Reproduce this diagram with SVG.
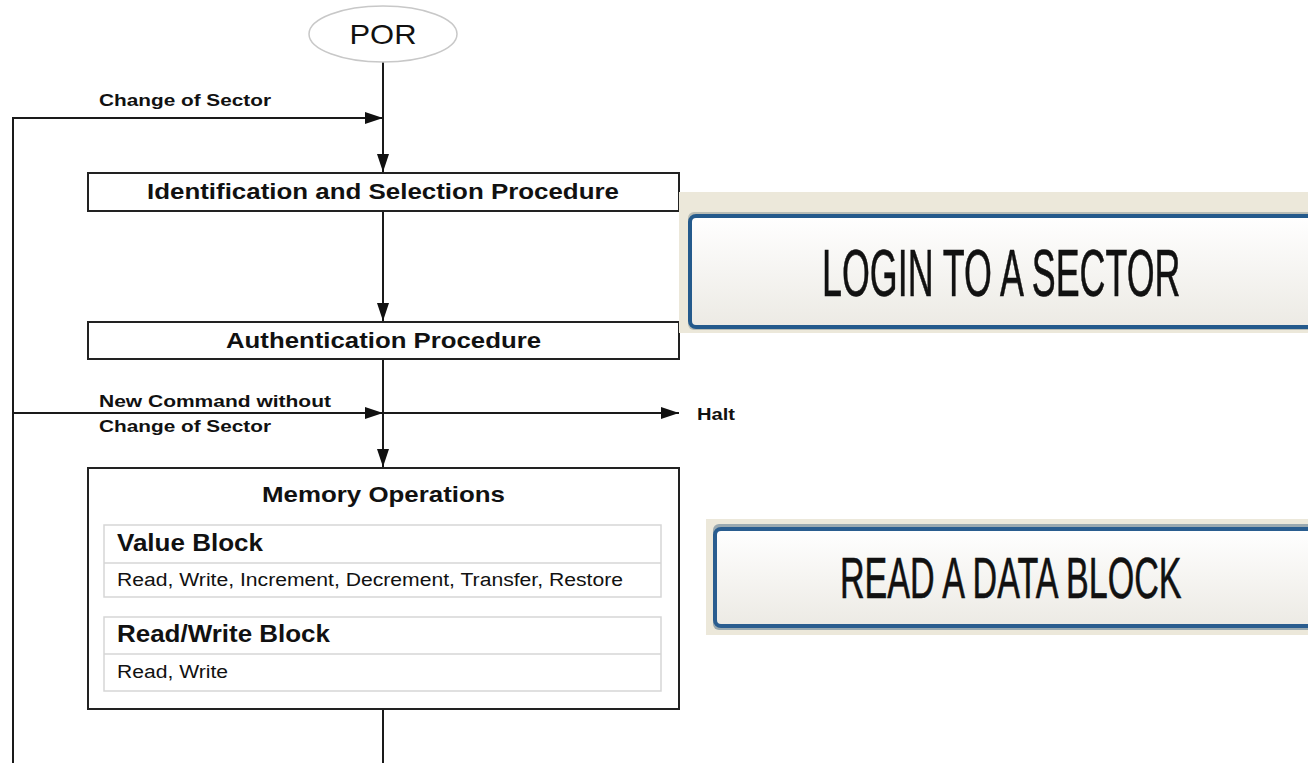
<svg xmlns="http://www.w3.org/2000/svg" width="1308" height="763" viewBox="0 0 1308 763">
<defs>
<style>
.ln{stroke:#1a1a1a;stroke-width:2;fill:none}
.box{fill:#fff;stroke:#222;stroke-width:2}
.sub{fill:#fff;stroke:#d6d6d6;stroke-width:1.5}
.t{font-family:"Liberation Sans",Arial,sans-serif;fill:#111}
.b{font-weight:bold}
.btn{font-family:"Liberation Sans",Arial,sans-serif;fill:#111;stroke:#111;stroke-width:0.6}
</style>
<marker id="ah" viewBox="0 0 18 12" refX="18" refY="6" markerWidth="18" markerHeight="12" markerUnits="userSpaceOnUse" orient="auto">
<path d="M0,0 L18,6 L0,12 Z" fill="#111"/>
</marker>
<linearGradient id="bg" x1="0" y1="0" x2="0" y2="1">
<stop offset="0" stop-color="#ffffff"/>
<stop offset="1" stop-color="#eceae4"/>
</linearGradient>
</defs>
<rect width="1308" height="763" fill="#fff"/>

<g id="connectors">
<line class="ln" x1="383" y1="62" x2="383" y2="172" marker-end="url(#ah)"/>
<polyline class="ln" points="13,763 13,118 383,118" marker-end="url(#ah)"/>
<line class="ln" x1="383" y1="211" x2="383" y2="321" marker-end="url(#ah)"/>
<line class="ln" x1="383" y1="359" x2="383" y2="467" marker-end="url(#ah)"/>
<polyline class="ln" points="13,420 13,413 383,413" marker-end="url(#ah)"/>
<line class="ln" x1="383" y1="413" x2="679" y2="413" marker-end="url(#ah)"/>
<line class="ln" x1="383" y1="709" x2="383" y2="763"/>
<text class="t b" x="99" y="106" font-size="17" textLength="172" lengthAdjust="spacingAndGlyphs">Change of Sector</text>
<text class="t b" x="99" y="407" font-size="17" textLength="232" lengthAdjust="spacingAndGlyphs">New Command without</text>
<text class="t b" x="99" y="432" font-size="17" textLength="172" lengthAdjust="spacingAndGlyphs">Change of Sector</text>
<text class="t b" x="697" y="420" font-size="17" textLength="38" lengthAdjust="spacingAndGlyphs">Halt</text>
</g>

<g id="por">
<ellipse cx="383" cy="34" rx="74" ry="28" fill="#fff" stroke="#c8c8c8" stroke-width="1.5"/>
<text class="t" x="383" y="44" font-size="28" text-anchor="middle" textLength="67" lengthAdjust="spacingAndGlyphs">POR</text>
</g>

<g id="identification">
<rect class="box" x="88" y="173" width="591" height="38"/>
<text class="t b" x="147" y="199" font-size="22" textLength="472" lengthAdjust="spacingAndGlyphs">Identification and Selection Procedure</text>
</g>

<g id="authentication">
<rect class="box" x="88" y="322" width="591" height="37"/>
<text class="t b" x="226" y="348" font-size="22" textLength="315" lengthAdjust="spacingAndGlyphs">Authentication Procedure</text>
</g>

<g id="memory">
<rect class="box" x="88" y="468" width="591" height="241"/>
<text class="t b" x="262" y="502" font-size="22" textLength="243" lengthAdjust="spacingAndGlyphs">Memory Operations</text>
<rect class="sub" x="104" y="525" width="557" height="72"/>
<line x1="104" y1="563" x2="661" y2="563" stroke="#d6d6d6" stroke-width="1.5"/>
<text class="t b" x="117" y="551" font-size="23" textLength="146" lengthAdjust="spacingAndGlyphs">Value Block</text>
<text class="t" x="117" y="586" font-size="18" textLength="506" lengthAdjust="spacingAndGlyphs">Read, Write, Increment, Decrement, Transfer, Restore</text>
<rect class="sub" x="104" y="617" width="557" height="74"/>
<line x1="104" y1="654" x2="661" y2="654" stroke="#d6d6d6" stroke-width="1.5"/>
<text class="t b" x="117" y="642" font-size="23" textLength="213" lengthAdjust="spacingAndGlyphs">Read/Write Block</text>
<text class="t" x="117" y="678" font-size="18" textLength="111" lengthAdjust="spacingAndGlyphs">Read, Write</text>
</g>

<g id="login-button">
<rect x="679" y="192" width="629" height="141" fill="#ece8da"/>
<rect x="688" y="212" width="630" height="118" rx="6" fill="#b9bdb6"/>
<rect x="690" y="216" width="630" height="111" rx="6" fill="url(#bg)" stroke="#245a8c" stroke-width="4"/>
<text class="btn" transform="translate(822,296) scale(0.535,1)" x="0" y="0" font-size="67">LOGIN TO A SECTOR</text>
</g>

<g id="read-button">
<rect x="706" y="519" width="602" height="116" fill="#ece8da"/>
<rect x="713" y="524" width="600" height="106" rx="6" fill="#9aa9b0"/>
<rect x="715" y="529" width="600" height="97" rx="6" fill="url(#bg)" stroke="#2a5d8f" stroke-width="4"/>
<text class="btn" transform="translate(840,598) scale(0.598,1)" x="0" y="0" font-size="57">READ A DATA BLOCK</text>
</g>
</svg>
